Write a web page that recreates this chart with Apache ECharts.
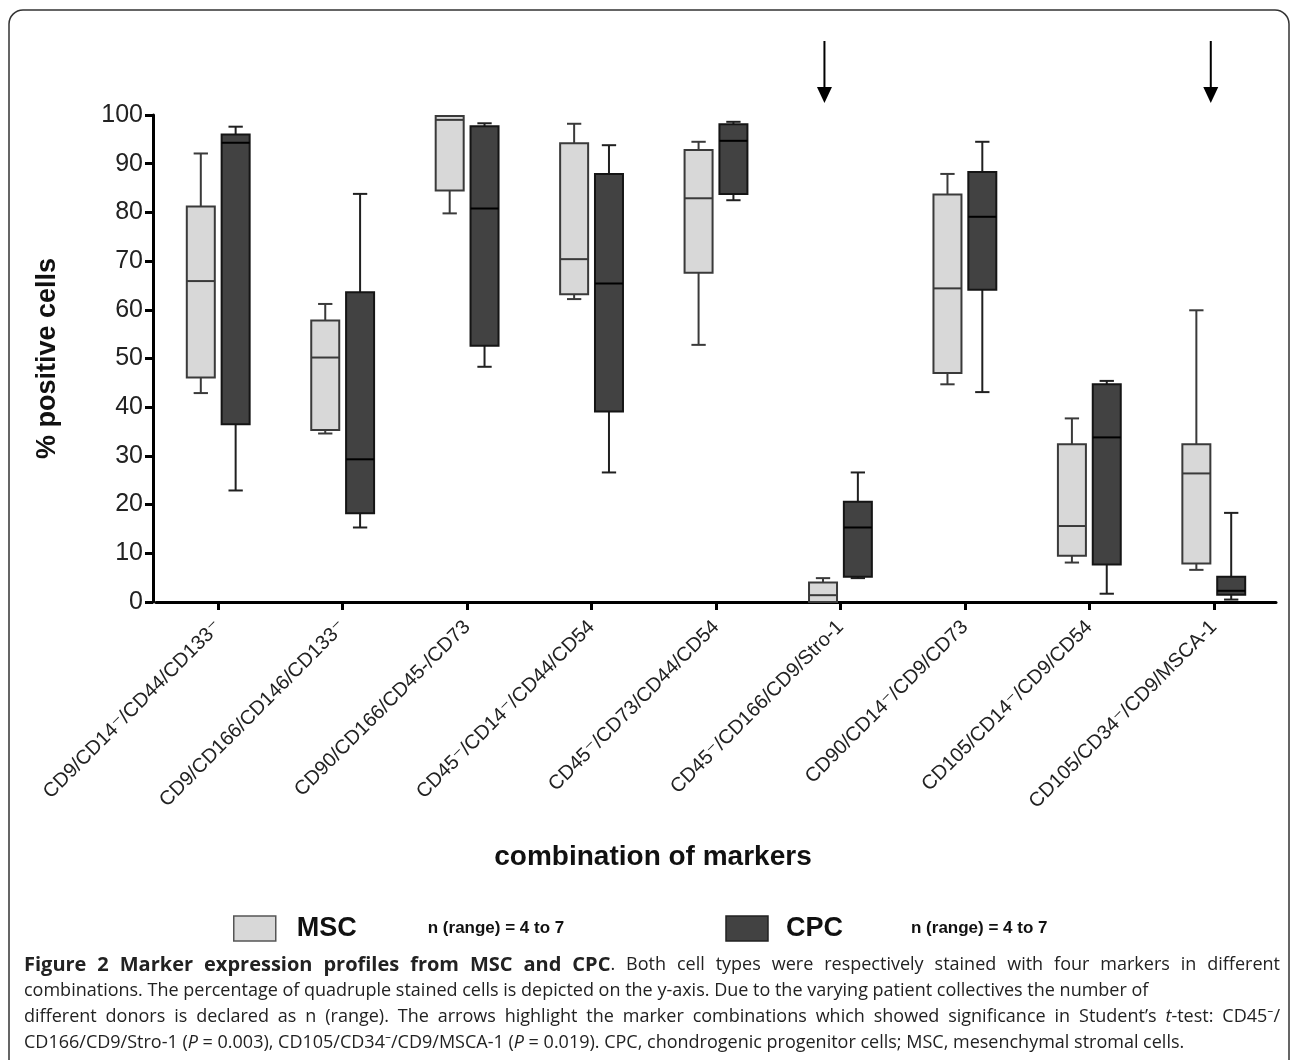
<!DOCTYPE html>
<html><head><meta charset="utf-8">
<script src="https://cdn.jsdelivr.net/npm/echarts@6/dist/echarts.min.js"></script>
<style>html,body{margin:0;padding:0;background:#fff}#c{width:1293px;height:1060px}</style>
</head><body><div id="c"></div>
<script>
// ---------- data ----------
const categories = [
  'CD9/CD14\u207B/CD44/CD133\u207B',
  'CD9/CD166/CD146/CD133\u207B',
  'CD90/CD166/CD45-/CD73',
  'CD45\u207B/CD14\u207B/CD44/CD54',
  'CD45\u207B/CD73/CD44/CD54',
  'CD45\u207B/CD166/CD9/Stro-1',
  'CD90/CD14\u207B/CD9/CD73',
  'CD105/CD14\u207B/CD9/CD54',
  'CD105/CD34\u207B/CD9/MSCA-1'
];
// [min, Q1, median, Q3, max] in % positive cells
const mscBoxes = [
  [42.9, 46.1, 65.9, 81.2, 92.1],
  [34.6, 35.3, 50.2, 57.8, 61.2],
  [79.8, 84.5, 99.0, 99.8, 99.8],
  [62.2, 63.2, 70.4, 94.2, 98.2],
  [52.8, 67.6, 82.9, 92.8, 94.5],
  [0.0, 0.0, 1.4, 4.0, 4.9],
  [44.7, 47.0, 64.4, 83.7, 87.9],
  [8.1, 9.5, 15.6, 32.4, 37.7],
  [6.6, 7.9, 26.4, 32.4, 59.9]
];
const cpcBoxes = [
  [22.9, 36.5, 94.3, 96.0, 97.6],
  [15.3, 18.2, 29.3, 63.6, 83.8],
  [48.3, 52.6, 80.8, 97.7, 98.3],
  [26.6, 39.1, 65.4, 87.9, 93.8],
  [82.5, 83.8, 94.7, 98.1, 98.6],
  [4.9, 5.2, 15.3, 20.6, 26.6],
  [43.1, 64.1, 79.1, 88.3, 94.5],
  [1.7, 7.7, 33.8, 44.7, 45.4],
  [0.5, 1.5, 2.3, 5.2, 18.3]
];
const yMin = 0, yMax = 100, yInterval = 10;
const seriesNames = ['MSC', 'CPC'];
const nRangeText = 'n (range) = 4 to 7';
const significantCategories = [5, 8]; // indices marked with arrows
const yAxisTitle = '% positive cells';
const xAxisTitle = 'combination of markers';

// ---------- styling ----------
const FONT = '"Liberation Sans", Arial, "DejaVu Sans", sans-serif';
const CAPFONT = '"Open Sans", "Noto Sans", sans-serif';
const CAPSIZE = 18;
const styles = {
  MSC: { fill: '#d8d8d8', stroke: '#3a3a3a', median: '#3a3a3a', whisker: '#3a3a3a', shift: -0.14 },
  CPC: { fill: '#424242', stroke: '#151515', median: '#000000', whisker: '#202020', shift: 0.14 }
};

function boxRenderer(st) {
  return function (params, api) {
    const x = api.value(0);
    const band = api.size([1, 0])[0];
    const bw = band * 0.225, cap = band * 0.115;
    const pMin = api.coord([x, api.value(1)]);
    const pQ1 = api.coord([x, api.value(2)]);
    const pMed = api.coord([x, api.value(3)]);
    const pQ3 = api.coord([x, api.value(4)]);
    const pMax = api.coord([x, api.value(5)]);
    const cx = pMin[0] + band * st.shift;
    const lw = 2;
    return {
      type: 'group',
      children: [
        { type: 'line', shape: { x1: cx, y1: pMax[1], x2: cx, y2: pMin[1] }, style: { stroke: st.whisker, lineWidth: lw } },
        { type: 'line', shape: { x1: cx - cap / 2, y1: pMax[1], x2: cx + cap / 2, y2: pMax[1] }, style: { stroke: st.whisker, lineWidth: lw } },
        { type: 'line', shape: { x1: cx - cap / 2, y1: pMin[1], x2: cx + cap / 2, y2: pMin[1] }, style: { stroke: st.whisker, lineWidth: lw } },
        { type: 'rect', shape: { x: cx - bw / 2, y: pQ3[1], width: bw, height: pQ1[1] - pQ3[1] }, style: { fill: st.fill, stroke: st.stroke, lineWidth: lw } },
        { type: 'line', shape: { x1: cx - bw / 2, y1: pMed[1], x2: cx + bw / 2, y2: pMed[1] }, style: { stroke: st.median, lineWidth: lw } }
      ]
    };
  };
}

function toData(boxes) { return boxes.map((b, i) => [i].concat(b)); }

const chart = echarts.init(document.getElementById('c'), null, { renderer: 'canvas' });

const option = {
  backgroundColor: '#ffffff',
  animation: false,
  grid: { left: 156, right: 17, top: 115, bottom: 458, containLabel: false },
  xAxis: {
    type: 'category',
    data: categories,
    boundaryGap: true,
    axisLine: { show: true, lineStyle: { color: '#000', width: 3 } },
    axisTick: { show: true, alignWithLabel: true, length: 8, lineStyle: { color: '#000', width: 3 } },
    axisLabel: { rotate: 45, margin: 22, fontSize: 20, fontFamily: FONT, color: '#222', interval: 0 },
    splitLine: { show: false }
  },
  yAxis: {
    type: 'value',
    min: yMin, max: yMax, interval: yInterval,
    offset: 3,
    name: yAxisTitle,
    nameLocation: 'middle',
    nameGap: 92,
    nameRotate: 90,
    nameTextStyle: { fontSize: 27, fontWeight: 'bold', fontFamily: FONT, color: '#111' },
    axisLine: { show: true, lineStyle: { color: '#000', width: 3 } },
    axisTick: { show: true, length: 8, lineStyle: { color: '#000', width: 3 } },
    axisLabel: { fontSize: 25, fontFamily: FONT, color: '#222', margin: 10 },
    splitLine: { show: false }
  },
  legend: {
    left: 228, top: 910,
    icon: 'rect', itemWidth: 42, itemHeight: 25, itemGap: 161,
    selectedMode: false,
    data: [
      { name: 'MSC', itemStyle: { color: styles.MSC.fill, borderColor: '#555', borderWidth: 1.5 } },
      { name: 'CPC', itemStyle: { color: styles.CPC.fill, borderColor: '#222', borderWidth: 1.5 } }
    ],
    formatter: function (name) { return '{' + name + '|' + name + '}{n|' + nRangeText + '}'; },
    textStyle: {
      rich: {
        MSC: { fontSize: 27, fontWeight: 'bold', fontFamily: FONT, color: '#111', width: 131, padding: [0, 0, 0, 16] },
        CPC: { fontSize: 27, fontWeight: 'bold', fontFamily: FONT, color: '#111', width: 125, padding: [0, 0, 0, 13] },
        n: { fontSize: 17, fontWeight: 'bold', fontFamily: FONT, color: '#111' }
      }
    }
  },
  series: [
    { name: seriesNames[0], type: 'custom', renderItem: boxRenderer(styles.MSC), encode: { x: 0, y: [1, 2, 3, 4, 5] }, itemStyle: { color: styles.MSC.fill }, data: toData(mscBoxes), z: 3 },
    { name: seriesNames[1], type: 'custom', renderItem: boxRenderer(styles.CPC), encode: { x: 0, y: [1, 2, 3, 4, 5] }, itemStyle: { color: styles.CPC.fill }, data: toData(cpcBoxes), z: 3 }
  ]
};
chart.setOption(option);

// ---------- annotations: border, arrows, titles, caption ----------
const arrowShift = [-16, -3];
const graphics = [];
graphics.push({ type: 'rect', shape: { x: 9, y: 10, width: 1280, height: 1100, r: 14 }, style: { fill: null, stroke: '#333', lineWidth: 1.5 }, z: 0 });
significantCategories.forEach(function (ci, k) {
  const px = chart.convertToPixel({ xAxisIndex: 0 }, categories[ci]) + arrowShift[k];
  graphics.push({ type: 'line', shape: { x1: px, y1: 41, x2: px, y2: 92 }, style: { stroke: '#000', lineWidth: 2 } });
  graphics.push({ type: 'polygon', shape: { points: [[px - 7.5, 87], [px + 7.5, 87], [px, 103]] }, style: { fill: '#000' } });
});
graphics.push({ type: 'text', x: 653, y: 857, style: { text: xAxisTitle, font: 'bold 28px ' + FONT, fill: '#111', align: 'center', verticalAlign: 'middle' } });

// caption
const capStyles = {
  b: { fontFamily: CAPFONT, fontSize: 20, fontWeight: 'bold', fontStyle: 'normal', fill: '#222' },
  r: { fontFamily: CAPFONT, fontSize: CAPSIZE, fontWeight: 'normal', fontStyle: 'normal', fill: '#222' },
  i: { fontFamily: CAPFONT, fontSize: CAPSIZE, fontWeight: 'normal', fontStyle: 'italic', fill: '#222' }
};
const capLines = [
  { justify: true, segs: [['b', 'Figure 2 Marker expression profiles from MSC and CPC'], ['r', '. Both cell types were respectively stained with four markers in different']] },
  { justify: false, segs: [['r', 'combinations. The percentage of quadruple stained cells is depicted on the y-axis. Due to the varying patient collectives the number of']] },
  { justify: true, segs: [['r', 'different donors is declared as n (range). The arrows highlight the marker combinations which showed significance in Student\u2019s '], ['i', 't'], ['r', '-test: CD45\u207B/']] },
  { justify: false, segs: [['r', 'CD166/CD9/Stro-1 ('], ['i', 'P'], ['r', ' = 0.003), CD105/CD34\u207B/CD9/MSCA-1 ('], ['i', 'P'], ['r', ' = 0.019). CPC, chondrogenic progenitor cells; MSC, mesenchymal stromal cells.']] }
];
const capY = [965, 991, 1017, 1043];
const capX0 = 24, capX1 = 1280;
const mctx = document.createElement('canvas').getContext('2d');
function fontOf(k) { const s = capStyles[k]; return s.fontStyle + ' ' + s.fontWeight + ' ' + s.fontSize + 'px ' + s.fontFamily; }
function richOf(pieces) { return pieces.map(p => '{' + p[0] + '|' + p[1] + '}').join(''); }
capLines.forEach(function (line, k) {
  if (!line.justify) {
    graphics.push({ type: 'text', x: capX0, y: capY[k], style: { text: richOf(line.segs), rich: capStyles, align: 'left', verticalAlign: 'middle' } });
    return;
  }
  const words = [[]];
  line.segs.forEach(function (sg) {
    sg[1].split(' ').forEach(function (p, idx) {
      if (idx > 0) words.push([]);
      if (p) words[words.length - 1].push([sg[0], p]);
    });
  });
  const ws = words.filter(w => w.length);
  const widths = ws.map(w => w.reduce((a, p) => { mctx.font = fontOf(p[0]); return a + mctx.measureText(p[1]).width; }, 0));
  const total = widths.reduce((a, b) => a + b, 0);
  const gap = (capX1 - capX0 - total) / (ws.length - 1);
  let x = capX0;
  ws.forEach(function (w, j) {
    graphics.push({ type: 'text', x: x, y: capY[k], style: { text: richOf(w), rich: capStyles, align: 'left', verticalAlign: 'middle' } });
    x += widths[j] + gap;
  });
});
chart.setOption({ graphic: graphics });
</script>
</body></html>
